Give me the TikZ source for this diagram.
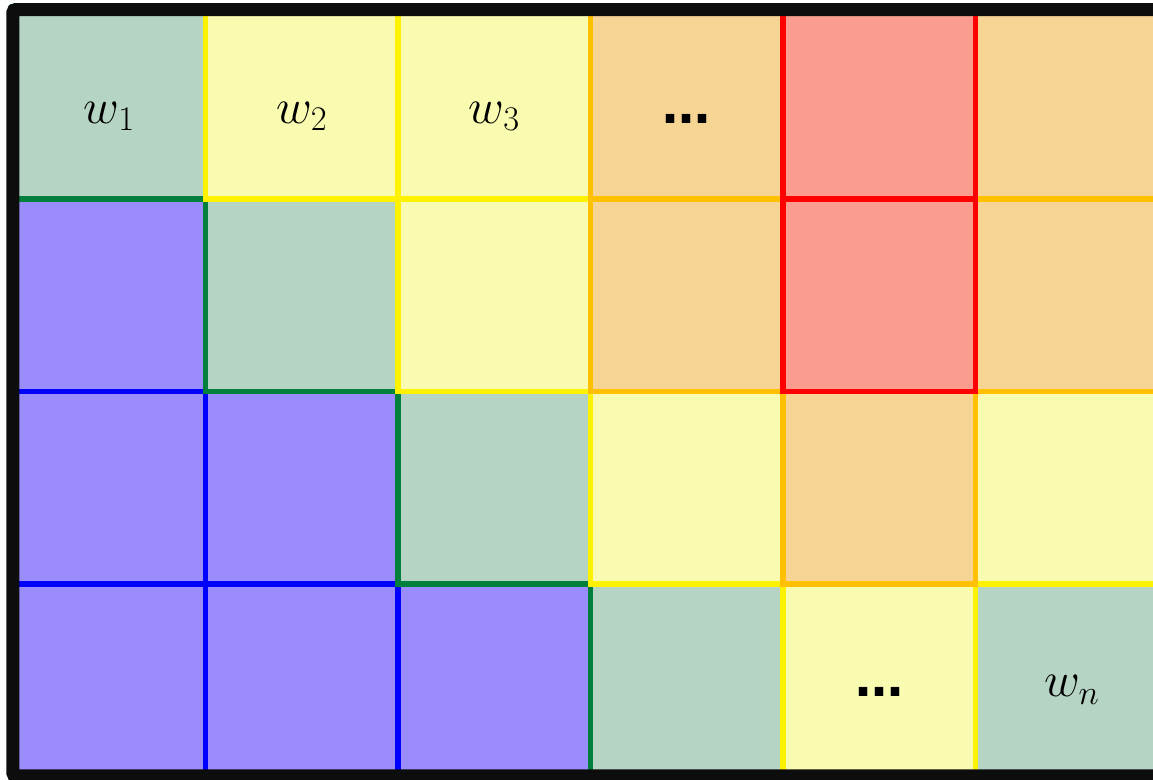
\documentclass[tikz,border=0pt]{standalone}
\usepackage{fix-cm}
\usepackage{fontspec}
\newfontfamily\dotfont{DejaVu Sans}
\definecolor{fillblue}{HTML}{9B8CFB}
\definecolor{fillgreen}{HTML}{B6D4C4}
\definecolor{fillyellow}{HTML}{F9FCB0}
\definecolor{fillorange}{HTML}{F6D594}
\definecolor{fillred}{HTML}{FA9C8F}
\definecolor{linegreen}{HTML}{00803C}
\definecolor{lineorange}{HTML}{FFC000}
\tikzset{
  cell/.style={line width=3.9pt},
  cellblue/.style={cell,fill=fillblue,draw=blue},
  cellgreen/.style={cell,fill=fillgreen,draw=linegreen},
  cellyellow/.style={cell,fill=fillyellow,draw=yellow},
  cellorange/.style={cell,fill=fillorange,draw=lineorange},
  cellred/.style={cell,fill=fillred,draw=red},
  lbl/.style={font=\fontsize{37}{42}\selectfont},
  dotlbl/.style={font=\dotfont\bfseries\fontsize{36}{40}\selectfont}
}
\begin{document}
\begin{tikzpicture}[x=144.375pt,y=-144.375pt]
  \useasboundingbox (-0.0675,-0.0338) rectangle (5.9221,4.0130);
  \clip (-0.0675,-0.0338) rectangle (5.9221,4.0130);
  % cells, row/column
  \foreach \r/\c in {1/0,2/0,2/1,3/0,3/1,3/2}
    \draw[cellblue] (\c,\r) rectangle ++(1,1);
  \foreach \r/\c in {0/0,1/1,2/2,3/3,3/5}
    \draw[cellgreen] (\c,\r) rectangle ++(1,1);
  \foreach \r/\c in {0/1,0/2,1/2,2/3,2/5,3/4}
    \draw[cellyellow] (\c,\r) rectangle ++(1,1);
  \foreach \r/\c in {0/3,0/5,1/3,1/5,2/4}
    \draw[cellorange] (\c,\r) rectangle ++(1,1);
  \foreach \r/\c in {0/4,1/4}
    \draw[cellred] (\c,\r) rectangle ++(1,1);
  % frame
  \draw[line width=9.75pt,color=black!95,rounded corners=2pt] (0,0.016) rectangle (6,3.997);
  % labels
  \node[lbl] (w1) at (0.5,0.57) {$w_1$};
  \node[lbl] (w2) at (1.5,0.57) {$w_2$};
  \node[lbl] (w3) at (2.5,0.57) {$w_3$};
  \node[dotlbl] (dotsa) at (3.5,0.584) {…};
  \node[dotlbl] (dotsb) at (4.5,3.56) {…};
  \node[lbl] (wn) at (5.5,3.55) {$w_n$};
\end{tikzpicture}
\end{document}
